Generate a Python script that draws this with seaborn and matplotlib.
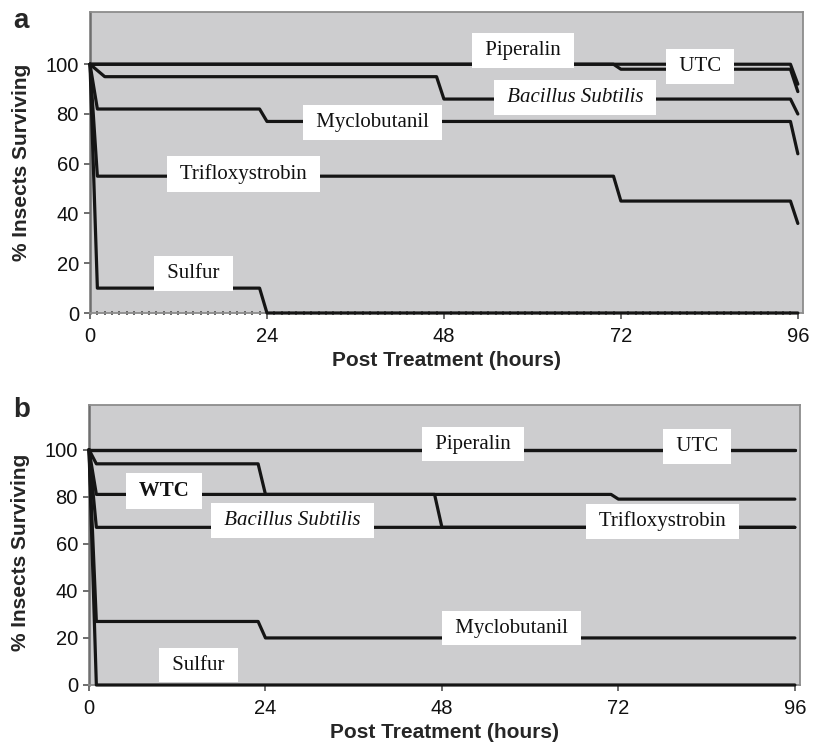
import matplotlib
matplotlib.use("Agg")
import matplotlib.pyplot as plt
import seaborn as sns
import pandas as pd
from matplotlib.ticker import MultipleLocator

# ---------------- data ----------------
# Panel a
a_treatments = ["Piperalin", "UTC", "Bacillus Subtilis", "Myclobutanil", "Trifloxystrobin", "Sulfur"]
a_hours = {
    "Piperalin":         [0, 71, 72, 95, 96],
    "UTC":               [0, 71, 72, 95, 96],
    "Bacillus Subtilis": [0, 2, 47, 48, 95, 96],
    "Myclobutanil":      [0, 1, 23, 24, 95, 96],
    "Trifloxystrobin":   [0, 1, 71, 72, 95, 96],
    "Sulfur":            [0, 1, 23, 24, 96],
}
a_values = {
    "Piperalin":         [100, 100, 100, 100, 92],
    "UTC":               [100, 100, 98, 98, 89],
    "Bacillus Subtilis": [100, 95, 95, 86, 86, 80],
    "Myclobutanil":      [100, 82, 82, 77, 77, 64],
    "Trifloxystrobin":   [100, 55, 55, 45, 45, 36],
    "Sulfur":            [100, 10, 10, 0, 0],
}
# Panel b
b_treatments = ["Piperalin", "UTC", "WTC", "Trifloxystrobin", "Bacillus Subtilis", "Myclobutanil", "Sulfur"]
b_hours = {
    "Piperalin":         [0, 96],
    "UTC":               [0, 96],
    "WTC":               [0, 1, 23, 24, 71, 72, 96],
    "Trifloxystrobin":   [0, 1, 47, 48, 96],
    "Bacillus Subtilis": [0, 1, 96],
    "Myclobutanil":      [0, 1, 23, 24, 96],
    "Sulfur":            [0, 1, 96],
}
b_values = {
    "Piperalin":         [100, 100],
    "UTC":               [100, 100],
    "WTC":               [100, 94, 94, 81, 81, 79, 79],
    "Trifloxystrobin":   [100, 81, 81, 67, 67],
    "Bacillus Subtilis": [100, 67, 67],
    "Myclobutanil":      [100, 27, 27, 20, 20],
    "Sulfur":            [100, 0, 0],
}

# label annotations: (text, hour, value, style)
a_labels = [("Piperalin", 58.7, 105.5, "normal"), ("UTC", 82.7, 99.2, "normal"),
            ("Bacillus Subtilis", 65.8, 86.7, "italic"), ("Myclobutanil", 38.3, 76.5, "normal"),
            ("Trifloxystrobin", 20.8, 55.8, "normal"), ("Sulfur", 14.0, 16.0, "normal")]
b_labels = [("WTC", 10.2, 82.6, "bold"), ("Bacillus Subtilis", 27.7, 70.0, "italic"),
            ("Piperalin", 52.2, 102.4, "normal"), ("UTC", 82.7, 101.4, "normal"),
            ("Trifloxystrobin", 78.0, 69.5, "normal"), ("Myclobutanil", 57.5, 24.2, "normal"),
            ("Sulfur", 14.9, 8.5, "normal")]

x_ticks = [0, 24, 48, 72, 96]
y_ticks = [0, 20, 40, 60, 80, 100]

# ---------------- style ----------------
sns.set_style("white")
plt.rcParams["font.family"] = ["Liberation Sans", "DejaVu Sans"]

BG = "#cdcdcf"
LINE = "#151515"
SPINE = "#8c8c8c"


def long_df(treatments, hours, values):
    rows = []
    for t in treatments:
        for h, v in zip(hours[t], values[t]):
            rows.append({"hours": h, "surviving": v, "treatment": t})
    return pd.DataFrame(rows)


def draw(ax, treatments, hours, values, labels, ytop, minor):
    df = long_df(treatments, hours, values)
    sns.lineplot(data=df, x="hours", y="surviving", hue="treatment", units="treatment",
                 estimator=None, sort=False, palette={t: LINE for t in treatments},
                 linewidth=2.3, legend=False, ax=ax)
    for ln in ax.get_lines():
        ln.set_clip_on(False)
        ln.set_zorder(3)
    ax.set_facecolor(BG)
    ax.set_xlim(0, 96.7)
    ax.set_ylim(0, ytop)
    ax.set_xticks(x_ticks)
    ax.set_yticks(y_ticks)
    for s in ax.spines.values():
        s.set_color(SPINE)
        s.set_linewidth(1.3)
    ax.spines["left"].set_color("#6e6e6e")
    ax.spines["left"].set_linewidth(1.8)
    ax.tick_params(axis="both", which="major", direction="out", length=4, width=1.2,
                   bottom=True, left=True,
                   color="#555555", labelsize=14.5, labelcolor="#111111", pad=4)
    ax.tick_params(axis="x", which="major", pad=6)
    if minor:
        ax.xaxis.set_minor_locator(MultipleLocator(1))
        ax.tick_params(axis="x", which="minor", direction="inout", length=3.5, width=1.4,
                       bottom=True, color="#666666")
    ax.set_xlabel("Post Treatment (hours)", fontsize=15, fontweight="bold", labelpad=4)
    ax.set_ylabel("% Insects Surviving", fontsize=15, fontweight="bold")
    for txt, hx, vy, style in labels:
        kw = dict(fontsize=15, family=["Liberation Serif", "DejaVu Serif"], ha="center",
                  va="center", color="#111111", zorder=5,
                  bbox=dict(boxstyle="square,pad=0.38", fc="white", ec="none"))
        if style == "italic":
            kw["fontstyle"] = "italic"
        elif style == "bold":
            kw["fontweight"] = "bold"
        ax.text(hx, vy, " " + txt + " ", **kw)


fig = plt.figure(figsize=(8.13, 7.43), dpi=100)
axa = fig.add_axes([90 / 813, 1 - 313 / 743, 713 / 813, 301 / 743])
axb = fig.add_axes([89 / 813, 1 - 685 / 743, 711 / 813, 280 / 743])

draw(axa, a_treatments, a_hours, a_values, a_labels, 121, True)
draw(axb, b_treatments, b_hours, b_values, b_labels, 119, False)

axa.yaxis.set_label_coords(-0.083, 0.50)
axb.yaxis.set_label_coords(-0.083, 0.475)

fig.text(13 / 813, 1 - 28 / 743, "a", fontsize=20, fontweight="bold", ha="left", va="baseline")
fig.text(13 / 813, 1 - 417 / 743, "b", fontsize=20, fontweight="bold", ha="left", va="baseline")

fig.savefig("out.png", dpi=100, facecolor="white")
